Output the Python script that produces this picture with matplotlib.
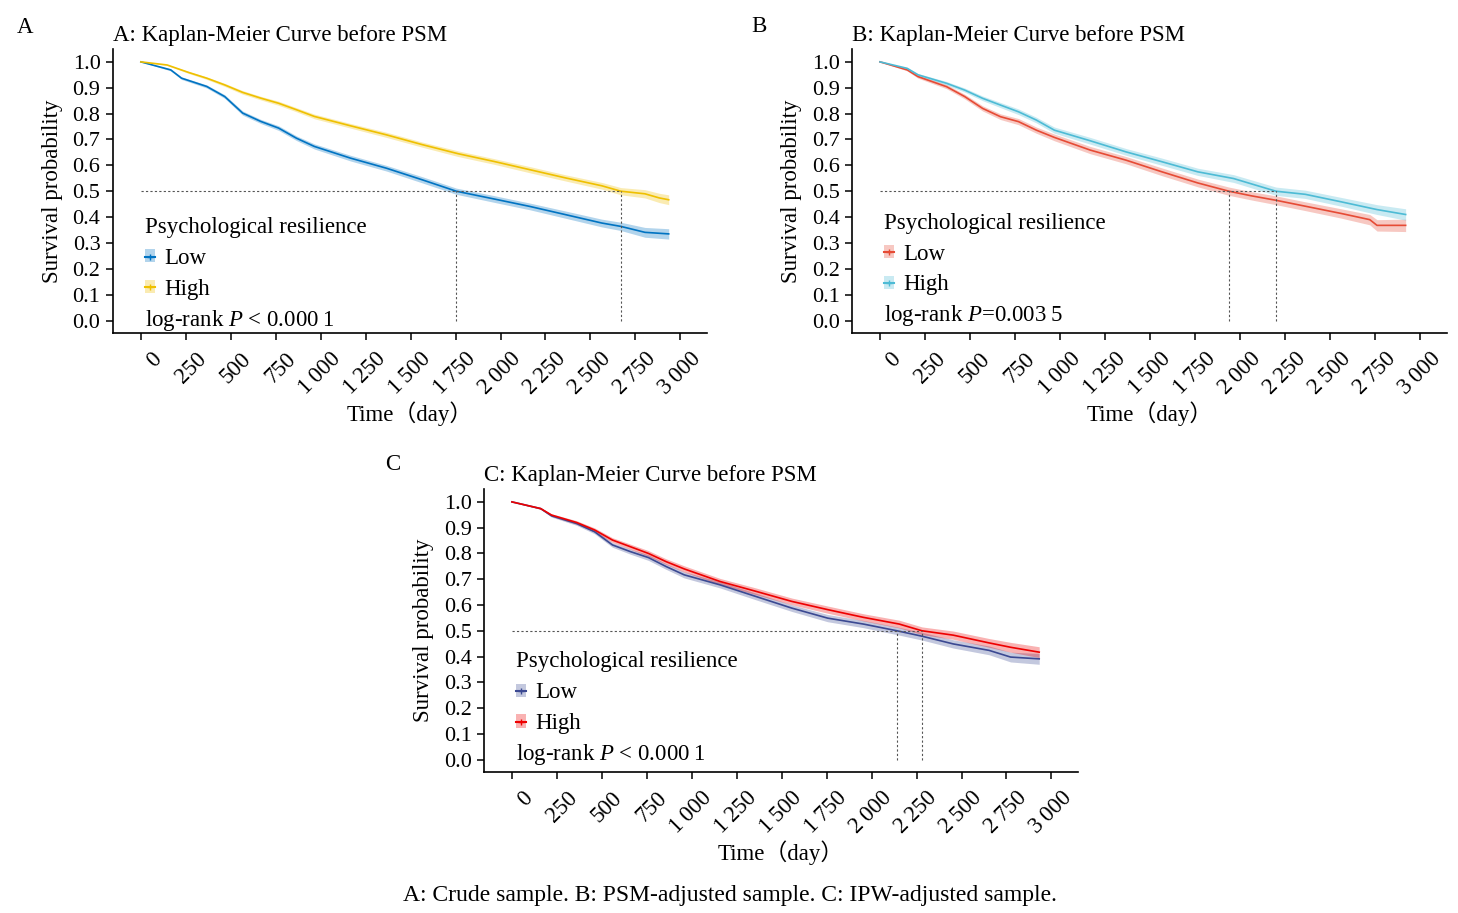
import matplotlib
matplotlib.use("Agg")
import matplotlib.pyplot as plt
import matplotlib.transforms as mtransforms
from matplotlib.lines import Line2D
from matplotlib.patches import Patch
import numpy as np

plt.rcParams['font.family'] = ['Liberation Serif', 'DejaVu Serif', 'Noto Sans CJK SC']
plt.rcParams['mathtext.fontset'] = 'custom'
plt.rcParams['mathtext.rm'] = 'Liberation Serif'
plt.rcParams['mathtext.it'] = 'Liberation Serif:italic'

# ---- data ----
x_ticks = [0, 250, 500, 750, 1000, 1250, 1500, 1750, 2000, 2250, 2500, 2750, 3000]
x_tick_labels = ["0", "250", "500", "750", "1\u2009000", "1\u2009250", "1\u2009500", "1\u2009750",
                 "2\u2009000", "2\u2009250", "2\u2009500", "2\u2009750", "3\u2009000"]
y_ticks = [0.0, 0.1, 0.2, 0.3, 0.4, 0.5, 0.6, 0.7, 0.8, 0.9, 1.0]

# A: crude sample
a_low_t = [0, 166, 226, 366, 466, 566, 666, 766, 865, 965, 1165, 1365, 1565, 1754, 1964, 2164, 2364, 2563, 2669, 2803, 2935]
a_low_s = [1.0, .969, .937, .905, .866, .802, .770, .744, .705, .673, .628, .589, .544, .500, .470, .441, .409, .377, .364, .341, .335]
a_low_ci = [0, .004, .005, .006, .007, .008, .008, .009, .009, .01, .011, .011, .012, .012, .013, .013, .014, .015, .016, .019, .02]
a_high_t = [0, 146, 266, 366, 466, 566, 666, 766, 865, 965, 1165, 1365, 1565, 1764, 1964, 2164, 2364, 2563, 2669, 2803, 2883, 2935]
a_high_s = [1.0, .988, .959, .937, .911, .882, .86, .84, .815, .789, .753, .718, .68, .645, .615, .583, .551, .521, .500, .49, .474, .467]
a_high_ci = [0, .002, .004, .005, .006, .007, .007, .008, .008, .009, .009, .01, .01, .011, .011, .012, .012, .013, .014, .016, .018, .019]
a_medians = [1754, 2669]

# B: PSM-adjusted sample
b_low_t = [0, 151, 211, 370, 470, 570, 669, 769, 868, 968, 1167, 1366, 1565, 1764, 1937, 2063, 2198, 2361, 2560, 2719, 2759, 2918]
b_low_s = [1.0, .969, .943, .904, .866, .82, .788, .769, .736, .708, .659, .62, .575, .532, .500, .482, .465, .442, .414, .39, .368, .368]
b_low_ci = [0, .004, .006, .008, .009, .01, .011, .012, .012, .013, .014, .014, .015, .015, .016, .016, .017, .017, .018, .02, .022, .024]
b_high_t = [0, 151, 211, 370, 470, 570, 669, 769, 868, 968, 1167, 1366, 1565, 1764, 1963, 2198, 2361, 2560, 2759, 2918]
b_high_s = [1.0, .975, .95, .917, .891, .859, .833, .807, .775, .736, .695, .652, .614, .575, .549, .5, .488, .459, .429, .41]
b_high_ci = [0, .003, .005, .007, .008, .009, .01, .011, .011, .012, .013, .013, .014, .014, .015, .016, .016, .017, .019, .022]
b_medians = [1937, 2198]

# C: IPW-adjusted sample
c_low_t = [0, 160, 220, 360, 460, 559, 659, 759, 858, 958, 1158, 1357, 1556, 1756, 1955, 2141, 2280, 2454, 2653, 2773, 2932]
c_low_s = [1.0, .974, .946, .916, .884, .833, .807, .784, .749, .717, .678, .633, .588, .549, .526, .5, .479, .449, .424, .398, .391]
c_low_ci = [0, .003, .005, .007, .008, .009, .01, .011, .011, .012, .012, .013, .013, .014, .014, .015, .015, .016, .017, .019, .021]
c_high_t = [0, 160, 220, 360, 460, 559, 659, 759, 858, 958, 1158, 1357, 1556, 1756, 1955, 2154, 2280, 2454, 2653, 2773, 2932]
c_high_s = [1.0, .974, .949, .92, .891, .852, .826, .80, .768, .74, .691, .653, .614, .582, .552, .526, .5, .483, .453, .436, .417]
c_high_ci = [0, .003, .005, .007, .008, .009, .01, .011, .011, .012, .012, .013, .013, .014, .014, .015, .015, .016, .017, .019, .021]
c_medians = [2141, 2280]

group_labels = ["Low", "High"]


def km_panel(ax, title, low, high, colors, medians, ptext, leg_top, p_y):
	for (t, s, ci), col in zip([low, high], colors):
		t = np.array(t)
		s = np.array(s)
		ci = np.array(ci)
		ax.fill_between(t, s - ci, s + ci, color=col, alpha=0.3, lw=0)
		ax.plot(t, s, color=col, lw=1.2)

	# median survival guides
	ax.plot([0, max(medians)], [0.5, 0.5], color="#555555", lw=0.8, ls=(0, (2, 2)))
	for m in medians:
		ax.plot([m, m], [0, 0.5], color="#555555", lw=0.8, ls=(0, (2, 2)))

	ax.set_xlim(-155, 3148)
	ax.set_ylim(-0.048, 1.05)
	ax.spines['top'].set_visible(False)
	ax.spines['right'].set_visible(False)
	ax.spines['left'].set_linewidth(1.2)
	ax.spines['bottom'].set_linewidth(1.2)
	ax.set_yticks(y_ticks)
	ax.set_yticklabels(["%.1f" % v for v in y_ticks])
	ax.set_xticks(x_ticks)
	ax.set_xticklabels(x_tick_labels, rotation=45, ha='right', va='top', rotation_mode='anchor')
	ax.tick_params(axis='both', length=5, width=1.1, labelsize=16, pad=4)
	ax.tick_params(axis='x', labelsize=16.5)
	offset = mtransforms.ScaledTranslation(7 / 72, -2 / 72, ax.figure.dpi_scale_trans)
	for lbl in ax.get_xticklabels():
		lbl.set_transform(lbl.get_transform() + offset)

	ax.set_ylabel("Survival probability", fontsize=16.5, labelpad=7)
	ax.set_xlabel("Time（day）", fontsize=16.5, labelpad=2)
	ax.set_title(title, loc='left', fontsize=16.5, pad=6)

	handles = [(Patch(facecolor=c, alpha=0.3, edgecolor='none'),
				Line2D([], [], color=c, lw=1.5, marker='+', ms=4, mew=1)) for c in colors]
	leg = ax.legend(handles, group_labels, title="Psychological resilience", loc='upper left',
					bbox_to_anchor=(22, leg_top), bbox_transform=ax.transData,
					frameon=False, fontsize=16.5, title_fontsize=16.5, borderpad=0, borderaxespad=0,
					handlelength=0.45, handleheight=0.5, handletextpad=0.4, labelspacing=0.43)
	leg._legend_box.align = "left"
	ax.text(22, p_y, ptext, fontsize=16.5, va='center', ha='left')


fig = plt.figure(figsize=(14.58, 9.13), dpi=100)
ax_a = fig.add_axes([0.0775, 0.6353, 0.4074, 0.3111])
ax_b = fig.add_axes([0.5844, 0.6353, 0.4081, 0.3111])
ax_c = fig.add_axes([0.3320, 0.1544, 0.4074, 0.3100])

km_panel(ax_a, "A: Kaplan-Meier Curve before PSM",
		 (a_low_t, a_low_s, a_low_ci), (a_high_t, a_high_s, a_high_ci),
		 ["#0073C2", "#EFC000"], a_medians, "log-rank $P$ < 0.000\u20091", 0.40, 0.002)
km_panel(ax_b, "B: Kaplan-Meier Curve before PSM",
		 (b_low_t, b_low_s, b_low_ci), (b_high_t, b_high_s, b_high_ci),
		 ["#E64B35", "#4DBBD5"], b_medians, "log-rank $P$=0.003\u20095", 0.417, 0.02)
km_panel(ax_c, "C: Kaplan-Meier Curve before PSM",
		 (c_low_t, c_low_s, c_low_ci), (c_high_t, c_high_s, c_high_ci),
		 ["#3B4992", "#EE0000"], c_medians, "log-rank $P$ < 0.000\u20091", 0.42, 0.02)

fig.text(17 / 1458, 1 - 33 / 913, "A", fontsize=16.5, va='baseline', ha='left')
fig.text(751 / 1458, 1 - 32 / 913, "B", fontsize=16.5, va='baseline', ha='left')
fig.text(385 / 1458, 1 - 470 / 913, "C", fontsize=16.5, va='baseline', ha='left')
fig.text(730 / 1458, 1 - 895 / 913, "A: Crude sample. B: PSM-adjusted sample. C: IPW-adjusted sample.",
		 fontsize=17, ha='center', va='center')

fig.savefig("out.png", dpi=100)
